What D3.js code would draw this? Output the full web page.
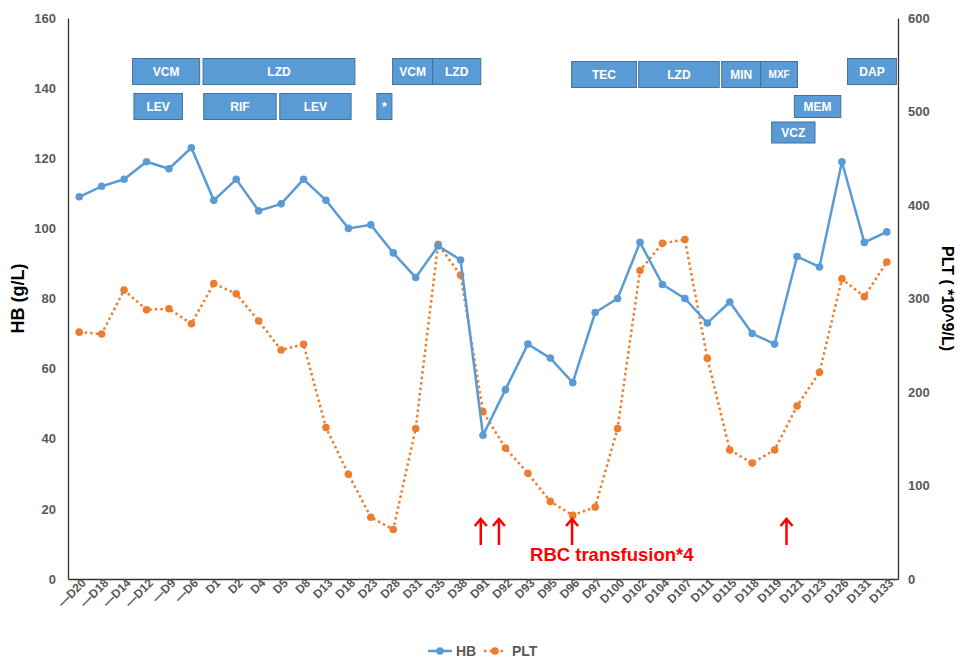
<!DOCTYPE html>
<html>
<head>
    <meta charset="utf-8">
    <title>HB and PLT</title>
    <script src="https://cdn.jsdelivr.net/npm/d3@7"></script>
    <style type="text/css">
        body { margin: 0; background: #fff; }
        svg { display: block; font-family: "Liberation Sans", Arial, sans-serif; }
        .tick text { fill: #595959; font-weight: bold; }
    </style>
</head>
<body>
<script>
    // chart data
    var categories = ["—D20", "—D18", "—D14", "—D12", "—D9", "—D6", "D1", "D2", "D4", "D5",
        "D8", "D13", "D18", "D23", "D28", "D31", "D35", "D38", "D91", "D92", "D93", "D95",
        "D96", "D97", "D100", "D102", "D104", "D107", "D111", "D115", "D118", "D119", "D121",
        "D123", "D126", "D131", "D133"];
    var hbValues = [109, 112, 114, 119, 117, 123, 108, 114, 105, 107, 114, 108, 100, 101, 93,
        86, 95, 91, 41, 54, 67, 63, 56, 76, 80, 96, 84, 80, 73, 79, 70, 67, 92, 89, 119, 96, 99];
    var pltValues = [264, 262, 309, 288, 289, 273, 316, 305, 276, 245, 251, 162, 112, 66, 53,
        161, 358, 325, 179, 140, 113, 83, 68, 77, 161, 330, 359, 363, 236, 138, 124, 138, 185,
        221, 321, 302, 339];
    var hbTicks = [0, 20, 40, 60, 80, 100, 120, 140, 160];
    var pltTicks = [0, 100, 200, 300, 400, 500, 600];

    // drug bars: name, start/end in category units, row
    var drugNames = ["VCM", "LZD", "VCM", "LZD", "DAP", "TEC", "LZD", "MIN", "MXF",
        "LEV", "RIF", "LEV", "*", "MEM", "VCZ"];
    var drugStart = [2.88, 6.02, 14.47, 16.25, 34.75, 22.45, 25.44, 29.14, 30.88,
        2.94, 6.05, 9.44, 13.77, 32.38, 31.37];
    var drugEnd = [5.87, 12.79, 16.25, 18.4, 36.93, 25.34, 29.03, 30.88, 32.52,
        5.1, 9.28, 12.62, 14.44, 34.45, 33.3];
    var drugRow = [0, 0, 0, 0, 0, 1, 1, 1, 1, 2, 2, 2, 2, 3, 4];
    var transfusionAt = [18.4, 19.21, 22.47, 32.03];

    var W = 958, H = 659;
    var margin = { top: 18, right: 60, bottom: 80, left: 68 },
        width = 898 - margin.left,
        height = 579 - margin.top;

    var svg = d3.select("body").append("svg")
        .attr("width", W)
        .attr("height", H);
    svg.append("rect").attr("width", W).attr("height", H).attr("fill", "#fff");

    var g = svg.append("g")
        .attr("transform", "translate(" + margin.left + "," + margin.top + ")");

    var x = d3.scaleBand().domain(categories).range([0, width]);
    var xu = d3.scaleLinear().domain([0, categories.length]).range([0, width]);
    var yL = d3.scaleLinear().domain([0, 160]).range([height, 0]);
    var yR = d3.scaleLinear().domain([0, 600]).range([height, 0]);
    var cx = function (i) { return x(categories[i]) + x.bandwidth() / 2; };

    // axes
    var xAxis = g.append("g")
        .attr("transform", "translate(0," + height + ")")
        .call(d3.axisBottom(x).tickSize(0).tickPadding(8));
    xAxis.select(".domain").attr("stroke", "#333").attr("stroke-width", 1.3);
    xAxis.selectAll(".tick text")
        .style("font-size", "12px")
        .style("text-anchor", "end")
        .attr("x", 2)
        .attr("y", 5)
        .attr("dy", "0.3em")
        .attr("transform", "rotate(-45)");

    var yAxisL = g.append("g")
        .call(d3.axisLeft(yL).tickValues(hbTicks).tickSize(0).tickPadding(12));
    yAxisL.select(".domain").attr("stroke", "#333").attr("stroke-width", 1.3);
    yAxisL.selectAll("text").style("font-size", "13px");

    var yAxisR = g.append("g")
        .attr("transform", "translate(" + width + ",0)")
        .call(d3.axisRight(yR).tickValues(pltTicks).tickSize(0).tickPadding(10));
    yAxisR.select(".domain").attr("stroke", "#333").attr("stroke-width", 1.3);
    yAxisR.selectAll("text").style("font-size", "13px");

    svg.append("text")
        .attr("transform", "translate(24," + (margin.top + height / 2) + ") rotate(-90)")
        .attr("text-anchor", "middle")
        .style("font-size", "18px")
        .style("font-weight", "bold")
        .attr("fill", "#000")
        .text("HB (g/L)");
    svg.append("text")
        .attr("transform", "translate(942," + (margin.top + height / 2) + ") rotate(90)")
        .attr("text-anchor", "middle")
        .style("font-size", "16px")
        .style("font-weight", "bold")
        .attr("fill", "#000")
        .text("PLT ( *10^9/L)");

    // drug bars
    var rowTop = [40.5, 43.5, 75.5, 77.5, 104];
    var rowH = [26, 26, 26, 22, 21];
    var drugs = g.selectAll(".drug")
        .data(drugNames)
        .enter().append("g")
        .attr("class", "drug");
    drugs.append("rect")
        .attr("x", function (d, i) { return xu(drugStart[i]); })
        .attr("y", function (d, i) { return rowTop[drugRow[i]]; })
        .attr("width", function (d, i) { return xu(drugEnd[i]) - xu(drugStart[i]); })
        .attr("height", function (d, i) { return rowH[drugRow[i]]; })
        .attr("fill", "#5B9BD5")
        .attr("stroke", "#41719C")
        .attr("stroke-width", 1);
    drugs.append("text")
        .attr("x", function (d, i) { return (xu(drugStart[i]) + xu(drugEnd[i])) / 2; })
        .attr("y", function (d, i) { return rowTop[drugRow[i]] + rowH[drugRow[i]] / 2; })
        .attr("dy", "0.35em")
        .attr("text-anchor", "middle")
        .attr("fill", "#fff")
        .style("font-weight", "bold")
        .style("font-size", function (d) { return d === "MXF" ? "10px" : "12px"; })
        .text(function (d) { return d; });

    // lines
    var hbLine = d3.line()
        .x(function (d, i) { return cx(i); })
        .y(function (d) { return yL(d); });
    var pltLine = d3.line()
        .x(function (d, i) { return cx(i); })
        .y(function (d) { return yR(d); });

    g.append("path")
        .datum(pltValues)
        .attr("fill", "none")
        .attr("stroke", "#ED7D31")
        .attr("stroke-width", 2.5)
        .attr("stroke-dasharray", "2.5,3")
        .attr("d", pltLine);
    g.selectAll(".pltdot")
        .data(pltValues)
        .enter().append("circle")
        .attr("cx", function (d, i) { return cx(i); })
        .attr("cy", function (d) { return yR(d); })
        .attr("r", 3.8)
        .attr("fill", "#ED7D31");

    g.append("path")
        .datum(hbValues)
        .attr("fill", "none")
        .attr("stroke", "#5B9BD5")
        .attr("stroke-width", 2.5)
        .attr("d", hbLine);
    g.selectAll(".hbdot")
        .data(hbValues)
        .enter().append("circle")
        .attr("cx", function (d, i) { return cx(i); })
        .attr("cy", function (d) { return yL(d); })
        .attr("r", 3.8)
        .attr("fill", "#5B9BD5");

    // transfusion arrows
    var arrows = g.selectAll(".arrow")
        .data(transfusionAt)
        .enter().append("g")
        .attr("class", "arrow")
        .attr("transform", function (d) { return "translate(" + xu(d) + ",500)"; });
    arrows.append("path")
        .attr("d", "M0,1V27M-6,8L0,1L6,8")
        .attr("fill", "none")
        .attr("stroke", "#FF0000")
        .attr("stroke-width", 2.5);
    g.append("text")
        .attr("x", xu(24.24))
        .attr("y", 543)
        .attr("text-anchor", "middle")
        .attr("fill", "#FF0000")
        .style("font-size", "18.5px")
        .style("font-weight", "bold")
        .text("RBC transfusion*4");

    // legend
    var leg = svg.append("g").attr("transform", "translate(0,651)");
    leg.append("line").attr("x1", 428).attr("x2", 452)
        .attr("stroke", "#5B9BD5").attr("stroke-width", 2.5);
    leg.append("circle").attr("cx", 440).attr("r", 3.8).attr("fill", "#5B9BD5");
    leg.append("text").attr("x", 456).attr("dy", "0.36em")
        .style("font-size", "14px").style("font-weight", "bold").attr("fill", "#595959")
        .text("HB");
    leg.append("line").attr("x1", 484).attr("x2", 506)
        .attr("stroke", "#ED7D31").attr("stroke-width", 2.5).attr("stroke-dasharray", "2.5,3");
    leg.append("circle").attr("cx", 495).attr("r", 3.8).attr("fill", "#ED7D31");
    leg.append("text").attr("x", 512).attr("dy", "0.36em")
        .style("font-size", "14px").style("font-weight", "bold").attr("fill", "#595959")
        .text("PLT");
</script>
</body>
</html>
